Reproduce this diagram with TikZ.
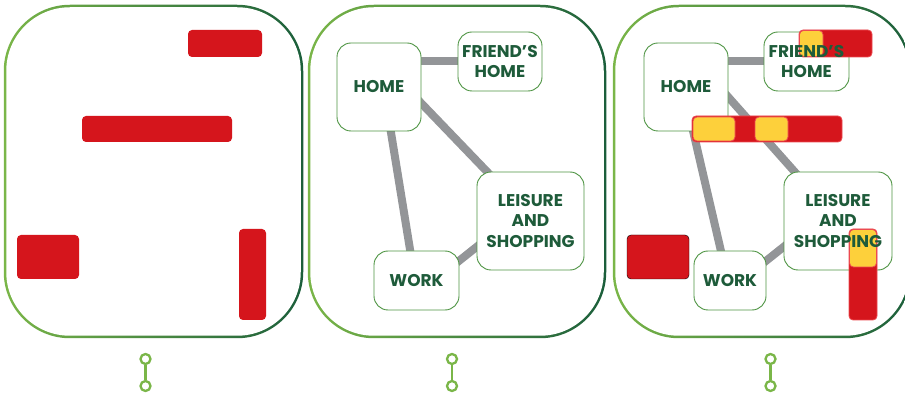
\documentclass[tikz,border=0pt]{standalone}
\usepackage{fontspec}
\setmainfont{Poppins}
\usepackage{xcolor}
\usetikzlibrary{calc}

\definecolor{lightgrn}{HTML}{7AB648}
\definecolor{darkgrn}{HTML}{1B5E3B}
\definecolor{boxgrn}{HTML}{4E9443}
\definecolor{txtgrn}{HTML}{1E5B3A}
\definecolor{roadgray}{HTML}{939598}
\definecolor{barred}{HTML}{D5151C}
\definecolor{baredge}{HTML}{EC4A50}
\definecolor{baryellow}{HTML}{FDD03B}
\newcommand{\placefont}{\fontsize{17}{20.5}\selectfont\bfseries}

\pgfdeclarelayer{frame}
\pgfdeclarelayer{roads}
\pgfdeclarelayer{bars}
\pgfdeclarelayer{labels}
\pgfsetlayers{frame,roads,main,bars,labels}

\begin{document}
\begin{tikzpicture}[x=1pt,y=-1pt,
  place/.style={draw=boxgrn, line width=0.9pt, fill=white, rounded corners=14pt,
    inner sep=0pt, align=center, font=\placefont, text=txtgrn},
  placetext/.style={inner sep=0pt, align=center, font=\placefont, text=txtgrn},
  road/.style={draw=roadgray, line width=8pt},
  bar/.style={fill=barred, rounded corners=4pt},
  hitbar/.style={fill=barred, draw=baredge, line width=0.8pt, rounded corners=4pt},
  overlap/.style={fill=baryellow, draw=baredge, line width=0.8pt, rounded corners=4pt},
  pindot/.style={circle, draw=lightgrn, line width=2.3pt, fill=white, minimum size=10pt, inner sep=0pt},
  pinline/.style={draw=lightgrn, line width=2.3pt}]
  \useasboundingbox (0,0) rectangle (905,395);
  \clip (0,0) rectangle (905,395);

  % Panel frames
  \begin{pgfonlayer}{frame}
  \foreach \xa/\xb in {5/302, 309/605, 614/910} {
    \shade[left color=lightgrn, right color=darkgrn, rounded corners=66.25pt]
      (\xa-1.25,4.75) rectangle (\xb+1.25,338.25);
    \fill[white, rounded corners=63.75pt] (\xa+1.25,7.25) rectangle (\xb-1.25,335.75);
  }
  \end{pgfonlayer}

  % Activity bars (left)
  \fill[bar] (188,30) rectangle (262,57);
  \fill[bar] (82,116) rectangle (232,142);
  \fill[bar] (17,235) rectangle (79,279);
  \fill[bar] (239,229) rectangle (266,320);

  % Places (middle)
  \node[place, minimum width=84pt, minimum height=88pt] (home2) at (379,87) {HOME};
  \node[place, minimum width=84pt, minimum height=59pt] (friend2) at (500,61.5) {FRIEND’S\\HOME};
  \node[place, minimum width=107pt, minimum height=98pt] (leis2) at (530.5,221) {LEISURE\\AND\\SHOPPING};
  \node[place, minimum width=85pt, minimum height=59pt] (work2) at (416.5,280.5) {WORK};

  % Places (right)
  \node[place, minimum width=84pt, minimum height=88pt] (home3) at (686,87) {};
  \node[place, minimum width=85pt, minimum height=59pt] (friend3) at (806.5,61.5) {};
  \node[place, minimum width=108pt, minimum height=98pt] (leis3) at (838,221) {};
  \node[place, minimum width=72pt, minimum height=59pt] (work3) at (730,280.5) {};

  % Roads
  \begin{pgfonlayer}{roads}
  \draw[road] ($(friend2.west)+(5,0)$) -- ($(friend2.west -| home2.east)+(-5,0)$);
  \draw[road] ($(home2.east)+(-10,6)$) -- ($(leis2.north west)+(20,10)$);
  \draw[road] ($(home2.south)+(11,-5)$) -- ($(work2.north)+(-5.5,5)$);
  \draw[road] ($(work2.east)+(-10,-12)$) -- ($(leis2.west)+(15,14)$);

  \draw[road] ($(friend3.west)+(5,0)$) -- ($(friend3.west -| home3.east)+(-5,0)$);
  \draw[road] ($(home3.east)+(-10,-1)$) -- ($(leis3.north west)+(18,8)$);
  \draw[road] ($(home3.south)+(6,-5)$) -- ($(work3.north)+(-8,5)$);
  \draw[road] ($(work3.east)+(-10,-12)$) -- ($(leis3.west)+(15,14)$);
  \end{pgfonlayer}

  % Activity bars and overlaps (right)
  \begin{pgfonlayer}{bars}
  \filldraw[hitbar] (799,30) rectangle (872,57);
  \filldraw[hitbar] (692,116) rectangle (842,142);
  \filldraw[bar] (627,235) rectangle (689,279);
  \filldraw[hitbar] (849,229) rectangle (877,320);

  \filldraw[overlap] (799.5,30.5) rectangle (823,56.5);
  \filldraw[overlap] (693,117) rectangle (735,141);
  \filldraw[overlap] (755,117) rectangle (788,141);
  \filldraw[overlap] (849.5,229.5) rectangle (876.5,267);
  \end{pgfonlayer}

  \begin{pgfonlayer}{labels}
  \node[placetext] (home3t) at (home3) {HOME};
  \node[placetext] (friend3t) at (friend3) {FRIEND’S\\HOME};
  \node[placetext] (leis3t) at (leis3) {LEISURE\\AND\\SHOPPING};
  \node[placetext] (work3t) at (work3) {WORK};
  \end{pgfonlayer}

  % Pins below the panels
  \foreach \cx/\n in {145.5/1, 452/2, 770.5/3} {
    \node[pindot] (pa\n) at (\cx,359) {};
    \node[pindot] (pb\n) at (\cx,386) {};
    \draw[pinline] (pa\n) -- (pb\n);
  }
\end{tikzpicture}
\end{document}
